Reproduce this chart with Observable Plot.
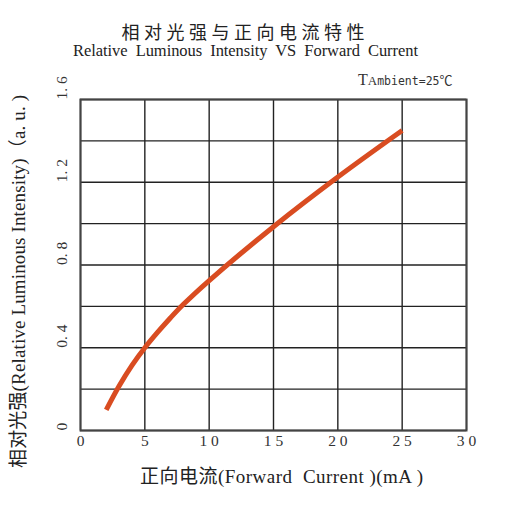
<!DOCTYPE html>
<html><head><meta charset="utf-8">
<script src="https://cdn.jsdelivr.net/npm/d3@7"></script>
<script src="https://cdn.jsdelivr.net/npm/@observablehq/plot@0.6"></script>
<style>body{margin:0;background:#fff}</style>
</head><body><div id="chart"></div>
<script>
const current = [2, 3, 4, 5, 6, 7, 8, 10, 15, 20, 25];
const intensity = [0.10, 0.215, 0.315, 0.40, 0.475, 0.545, 0.61, 0.725, 0.985, 1.225, 1.45];
const xTicks = [0, 5, 10, 15, 20, 25, 30];
const xTickLabels = ["0", "5", "1 0", "1 5", "2 0", "2 5", "3 0"];
const yGrid = [0, 0.2, 0.4, 0.6, 0.8, 1.0, 1.2, 1.4, 1.6];
const yTicks = [0, 0.4, 0.8, 1.2, 1.6];
const yTickLabels = ["0", "0. 4", "0. 8", "1. 2", "1. 6"];
const titleCn = "相对光强与正向电流特性";
const titleEn = "Relative  Luminous  Intensity  VS  Forward  Current";
const xTitle = "正向电流(Forward  Current )(mA )";
const yTitle = "相对光强(Relative Luminous Intensity)（a. u. )";

const data = current.map((c, i) => ({c, v: intensity[i]}));
const serif = "'Liberation Serif', 'Times New Roman', 'Noto Sans CJK SC', serif";

const svg = Plot.plot({
  width: 506, height: 507,
  marginLeft: 80, marginRight: 40, marginTop: 99, marginBottom: 77,
  x: {domain: [0, 30], axis: null},
  y: {domain: [0, 1.6], axis: null},
  style: {fontFamily: serif, background: "#fff", color: "#222"},
  marks: [
    Plot.ruleX(xTicks, {x: d => d, stroke: "#222", strokeWidth: 1.4}),
    Plot.ruleY(yGrid, {y: d => d, stroke: "#222", strokeWidth: 1.4}),
    Plot.frame({stroke: "#444", strokeWidth: 2}),
    Plot.line(data, {x: "c", y: "v", curve: "catmull-rom", stroke: "#d94c21", strokeWidth: 5, strokeLinecap: "butt"}),
    Plot.text(xTicks, {x: d => d, frameAnchor: "bottom", dy: 15, text: (d, i) => xTickLabels[i], fontSize: 15.5, fill: "#333", fontFamily: serif}),
    Plot.text(yTicks, {y: d => d, frameAnchor: "left", dx: -18, rotate: -90, text: (d, i) => yTickLabels[i], fontSize: 15.5, fill: "#333", fontFamily: serif})
  ]
});

const s = d3.select(svg);
s.append("text").attr("x", 243).attr("y", 39).attr("text-anchor", "middle")
  .attr("textLength", 243).attr("lengthAdjust", "spacing")
  .style("font-family", "'Noto Sans CJK SC', sans-serif").style("font-size", "18px").attr("fill", "#222").text(titleCn);
s.append("text").attr("x", 245.5).attr("y", 56).attr("text-anchor", "middle")
  .attr("textLength", 345).attr("lengthAdjust", "spacing")
  .style("font-family", serif).style("font-size", "16.5px").attr("fill", "#222").text(titleEn);
const ta = s.append("text").attr("x", 358).attr("y", 85).attr("text-anchor", "start").style("font-family", serif).attr("fill", "#333");
ta.append("tspan").style("font-size", "16px").text("T");
ta.append("tspan").style("font-size", "13px").text("A");
ta.append("tspan").style("font-size", "11.5px").style("font-family", "'DejaVu Sans Mono', monospace").text("mbient=25");
ta.append("tspan").style("font-size", "13px").style("font-family", "'Noto Sans CJK SC', sans-serif").text("℃");
s.append("text").attr("x", 281.5).attr("y", 483).attr("text-anchor", "middle")
  .attr("textLength", 283).attr("lengthAdjust", "spacing")
  .style("font-family", serif).style("font-size", "19px").attr("fill", "#222").text(xTitle);
s.append("text").attr("transform", "translate(25,281.5) rotate(-90)").attr("text-anchor", "middle")
  .attr("textLength", 373).attr("lengthAdjust", "spacing")
  .style("font-family", serif).style("font-size", "19px").attr("fill", "#222").text(yTitle);

document.getElementById("chart").appendChild(svg);
</script>
</body></html>
